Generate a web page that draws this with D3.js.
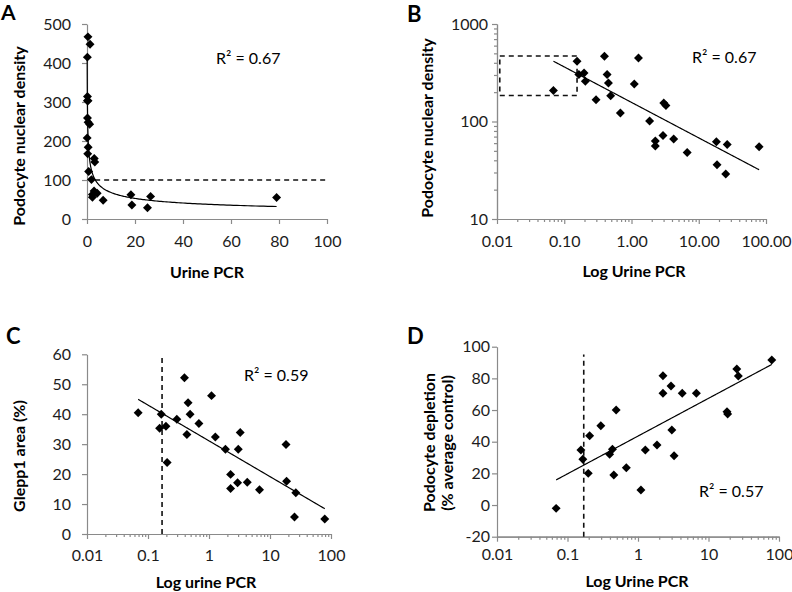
<!DOCTYPE html>
<html><head><meta charset="utf-8">
<script src="https://cdn.jsdelivr.net/npm/d3@7"></script>
<style>
body{margin:0;background:#fff}
svg text{font-family:Lato,"Open Sans",sans-serif}
</style>
</head><body>
<svg id="c" width="792" height="592"></svg>
<script>
// ---- data ----
const pcr       = [0.069,0.155,0.165,0.197,0.206,0.297,0.396,0.434,0.454,0.49,0.683,1.10,1.27,1.86,2.26,2.26,2.94,3.02,3.25,4.24,6.73,18.3,18.7,25.2,26.5,79];
const density   = [208,415,303,314,259,167,467,303,248,184,122,243,448,101,63,56,72,155,146,66,48,62,36,29,58,55];
const glepp     = [40.5,35.3,40.0,36.0,23.9,38.3,52.2,33.2,43.8,40.0,36.9,46.2,32.4,28.3,19.9,15.2,17.1,28.3,33.9,17.3,14.8,29.9,17.6,5.7,13.8,5.0];
const depletion = [-2.1,34.7,28.9,20.0,43.8,50.1,32.0,35.2,19.0,60.0,23.6,9.5,34.7,37.9,81.7,70.6,75.2,47.4,31.1,70.6,70.6,58.9,57.5,85.9,81.5,91.6];

const xTicksA = [0,20,40,60,80,100];
const yTicksA = [0,100,200,300,400,500];
const yTicksB = [10,100,1000];
const xTicksLog = [0.01,0.1,1,10,100];
const xLabelsB  = ["0.01","0.10","1.00","10.00","100.00"];
const xLabelsCD = ["0.01","0.1","1","10","100"];
const yTicksC = [0,10,20,30,40,50,60];
const yTicksD = [-20,0,20,40,60,80,100];

const fitPow = {a:157, b:-0.364};     // density = a * pcr^b
const fitC   = {a:31.1, b:-11.94};    // glepp = a + b*log10(pcr)
const fitD   = {a:43.55, b:23.84};    // depletion = a + b*log10(pcr)
const r2Labels = ["R² = 0.67","R² = 0.67","R² = 0.59","R² = 0.57"];
const densityCut = 100, densityCutFrom = 3.4;
const pcrCut = 0.17;
const boxB = {x0:0.011, x1:0.155, y0:185, y1:470};

// ---- drawing ----
const svg = d3.select("#c");
const axisColor = "#8a8a8a", labelColor = "#1c1c1c";

function style(g){
  g.select(".domain").attr("stroke",axisColor).attr("stroke-width",1.2);
  g.selectAll(".tick line").attr("stroke",axisColor).attr("stroke-width",1.2);
  g.selectAll(".tick text").attr("fill",labelColor).style("font-size","16px");
}
function minorTicks(scale){
  const majors = new Set(xTicksLog.concat(yTicksB).map(v=>+v.toPrecision(3)));
  return scale.ticks().filter(v=>!majors.has(+v.toPrecision(3)));
}
function xAxis(x,yPos,ticks,labels,pad,minor){
  if(minor){
    const gm = svg.append("g").attr("transform",`translate(0,${yPos})`)
      .call(d3.axisBottom(x).tickValues(minorTicks(x)).tickFormat("").tickSize(3).tickSizeOuter(0));
    style(gm);
  }
  const g = svg.append("g").attr("transform",`translate(0,${yPos})`)
    .call(d3.axisBottom(x).tickValues(ticks).tickFormat((d,i)=>labels[i]).tickSize(5).tickPadding(pad).tickSizeOuter(0));
  style(g);
}
function yAxis(y,xPos,ticks,labels,pad,minor){
  if(minor){
    const gm = svg.append("g").attr("transform",`translate(${xPos},0)`)
      .call(d3.axisLeft(y).tickValues(minorTicks(y)).tickFormat("").tickSize(3).tickSizeOuter(0));
    style(gm);
  }
  const g = svg.append("g").attr("transform",`translate(${xPos},0)`)
    .call(d3.axisLeft(y).tickValues(ticks).tickFormat((d,i)=>labels[i]).tickSize(5).tickPadding(pad).tickSizeOuter(0));
  style(g);
}
const diamond = d3.symbol().type(d3.symbolSquare).size(40)();
function points(x,y,ys){
  svg.append("g").selectAll("path").data(pcr).join("path")
    .attr("d",diamond)
    .attr("fill","#000")
    .attr("transform",(d,i)=>`translate(${x(d)},${y(ys[i])}) rotate(45)`);
}
function trend(x,y,f){
  const lo = d3.min(pcr), hi = d3.max(pcr);
  const xs = d3.range(0,301).map(t=>lo*Math.pow(hi/lo,t/300));
  svg.append("path").datum(xs)
    .attr("d",d3.line().x(d=>x(d)).y(d=>y(f(d))))
    .attr("fill","none").attr("stroke","#000").attr("stroke-width",1.2);
}
function text(str,x,y,opts={}){
  const t = svg.append("text").attr("x",x).attr("y",y).text(str)
    .attr("fill",opts.fill||"#000")
    .style("font-size",(opts.size||16)+"px")
    .style("font-weight",opts.bold?"700":"400")
    .attr("text-anchor",opts.anchor||"start");
  if(opts.rot) t.attr("transform",`rotate(-90,${x},${y})`);
  return t;
}
function dashed(x1,y1,x2,y2){
  svg.append("line").attr("x1",x1).attr("y1",y1).attr("x2",x2).attr("y2",y2)
    .attr("stroke","#111").attr("stroke-width",1.6).attr("stroke-dasharray","5,4");
}

// Panel A
{
  const x = d3.scaleLinear([0,100],[87,327]);
  const y = d3.scaleLinear([0,500],[219,24]);
  xAxis(x,219,xTicksA,xTicksA.map(String),12,false);
  yAxis(y,87,yTicksA,yTicksA.map(String),11,false);
  dashed(x(densityCutFrom),y(densityCut),x(100),y(densityCut));
  trend(x,y,v=>fitPow.a*Math.pow(v,fitPow.b));
  points(x,y,density);
  text(r2Labels[0],216,64);
  text("Urine PCR",207,278,{bold:true,anchor:"middle"});
  text("Podocyte nuclear density",24.5,136,{bold:true,anchor:"middle",rot:true});
  text("A",1,20,{bold:true,size:21});
}
// Panel B
{
  const x = d3.scaleLog([0.01,100],[497,766]);
  const y = d3.scaleLog([10,1000],[219,24]);
  xAxis(x,219,xTicksLog,xLabelsB,12,true);
  yAxis(y,497,yTicksB,yTicksB.map(String),4,true);
  svg.append("rect").attr("x",x(boxB.x0)).attr("y",y(boxB.y1))
    .attr("width",x(boxB.x1)-x(boxB.x0)).attr("height",y(boxB.y0)-y(boxB.y1))
    .attr("fill","none").attr("stroke","#111").attr("stroke-width",1.6).attr("stroke-dasharray","5,4");
  trend(x,y,v=>fitPow.a*Math.pow(v,fitPow.b));
  points(x,y,density);
  text(r2Labels[1],692,63);
  text("Log Urine PCR",634,277,{bold:true,anchor:"middle"});
  text("Podocyte nuclear density",433,128,{bold:true,anchor:"middle",rot:true});
  text("B",407,22,{bold:true,size:22});
}
// Panel C
{
  const x = d3.scaleLog([0.01,100],[87,331]);
  const y = d3.scaleLinear([0,60],[534,354.3]);
  xAxis(x,534,xTicksLog,xLabelsCD,11,true);
  yAxis(y,87,yTicksC,yTicksC.map(String),11,false);
  dashed(x(pcrCut),y(0),x(pcrCut),y(60));
  trend(x,y,v=>fitC.a+fitC.b*Math.log10(v));
  points(x,y,glepp);
  text(r2Labels[2],244,381);
  text("Log urine PCR",206,588,{bold:true,anchor:"middle"});
  text("Glepp1 area (%)",25,456,{bold:true,anchor:"middle",rot:true});
  text("C",6,344,{bold:true,size:22});
}
// Panel D
{
  const x = d3.scaleLog([0.01,100],[497,779]);
  const y = d3.scaleLinear([-20,100],[536.7,346.7]);
  xAxis(x,536.7,xTicksLog,xLabelsCD,7,true);
  yAxis(y,497,yTicksD,yTicksD.map(String),2,false);
  dashed(x(pcrCut),y(-20),x(pcrCut),y(95));
  trend(x,y,v=>fitD.a+fitD.b*Math.log10(v));
  points(x,y,depletion);
  text(r2Labels[3],699,497);
  text("Log Urine PCR",637,587,{bold:true,anchor:"middle"});
  text("Podocyte depletion",434.5,442.5,{bold:true,anchor:"middle",rot:true});
  text("(% average control)",452.5,443,{bold:true,anchor:"middle",rot:true});
  text("D",407,344,{bold:true,size:22});
}
</script>
</body></html>
